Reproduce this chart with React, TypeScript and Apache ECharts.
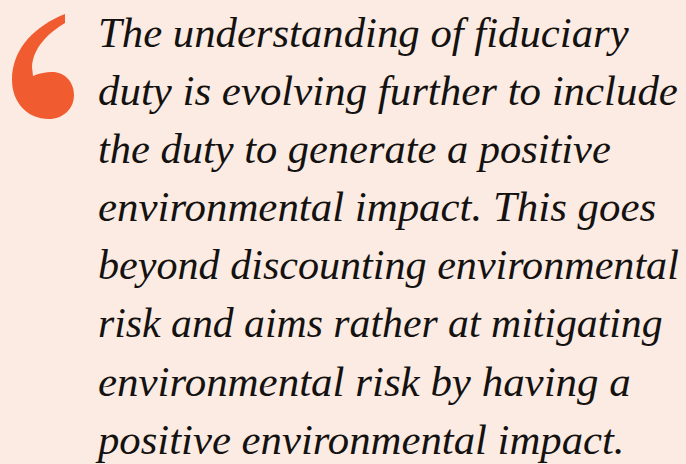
import React, { useEffect, useRef } from "react";
import * as echarts from "echarts";

// Content
const quoteLines: string[] = [
  "The understanding of fiduciary",
  "duty is evolving further to include",
  "the duty to generate a positive",
  "environmental impact. This goes",
  "beyond discounting environmental",
  "risk and aims rather at mitigating",
  "environmental risk by having a",
  "positive environmental impact.",
];

// Layout (right edge of each line in the reference)
const lineRightEdges: number[] = [629, 678, 611, 656, 679, 663, 631, 625];

const QUOTE_D =
  "M 60 16 L 65 14 L 65 23 C 48 33, 33 48, 32 67 L 33 76 C 40 73, 46 72, 52 72 C 65 72, 74 82, 74 95 C 74 109, 63 119, 49 119 C 27 119, 12 102, 12 80 C 12 52, 30 30, 60 16 Z";

let registered = false;

export default function App() {
  const ref = useRef<HTMLDivElement>(null);
  useEffect(() => {
    document.body.style.margin = "0";
    if (!registered) {
      echarts.graphic.registerShape("quoteMark", echarts.graphic.extendPath(QUOTE_D, {}) as any);
      registered = true;
    }
    const chart = echarts.init(ref.current!, null, { renderer: "svg" });
    const fontSize = 42;
    const fontFamily = "Liberation Serif";
    const ctx = document.createElement("canvas").getContext("2d")!;
    ctx.font = `italic ${fontSize}px "${fontFamily}"`;
    const left = 98;
    const textEls = quoteLines.map((t, i) => {
      const w = ctx.measureText(t).width || 1;
      const sx = (lineRightEdges[i] - left) / w;
      return {
        type: "text",
        x: left,
        y: 47 + i * 58.1 - 14.2,
        scaleX: sx,
        scaleY: 1,
        style: {
          text: t,
          x: 0,
          y: 0,
          fill: "#141211",
          fontFamily,
          fontStyle: "italic",
          fontSize,
          verticalAlign: "middle",
          align: "left",
        },
      };
    });
    chart.setOption({
      animation: false,
      backgroundColor: "#FCEBE2",
      graphic: [
        {
          type: "quoteMark",
          x: 0,
          y: 0,
          scaleX: 1,
          scaleY: 1,
          style: { fill: "#F15B30" },
        },
        ...textEls,
      ],
    });
    return () => chart.dispose();
  }, []);
  return (
    <div
      ref={ref}
      style={{ position: "absolute", left: 0, top: 0, width: 686, height: 464 }}
    />
  );
}
